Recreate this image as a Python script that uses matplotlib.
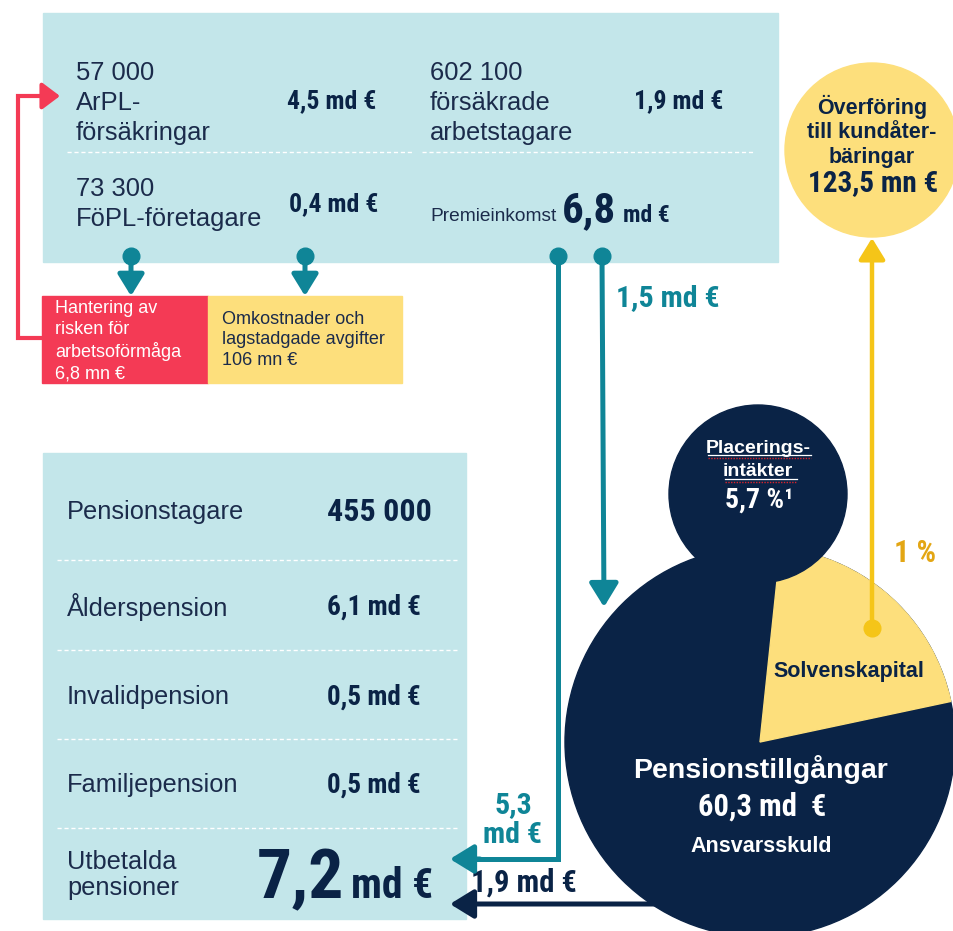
import numpy as np
import matplotlib
matplotlib.use("Agg")
import matplotlib.pyplot as plt
from matplotlib.patches import Rectangle, Circle, Wedge

# %% data
top_left_labels = ["57 000\nArPL-\nförsäkringar", "73 300\nFöPL-företagare"]
top_left_values = ["4,5 md €", "0,4 md €"]
top_right_label = "602 100\nförsäkrade\narbetstagare"
top_right_value = "1,9 md €"
premium_label = "Premieinkomst"
premium_value = "6,8"
cost_boxes = ["Hantering av\nrisken för\narbetsoförmåga\n6,8 mn €",
              "Omkostnader och\nlagstadgade avgifter\n106 mn €"]
transfer_text = "Överföring\ntill kundåter-\nbäringar"
transfer_value = "123,5 mn €"
flow_values = ["1,5 md €", "5,3\nmd €", "1,9 md €", "1 %"]
invest_label = "Placerings-\nintäkter"
invest_value = "5,7 %¹"
solvency_share = 0.20   # share of the big circle shown as solvency capital
assets_label = "Pensionstillgångar"
assets_value = "60,3 md  €"
liability_label = "Ansvarsskuld"
pension_labels = ["Pensionstagare", "Ålderspension", "Invalidpension", "Familjepension"]
pension_values = ["455 000", "6,1 md €", "0,5 md €", "0,5 md €"]
paid_label = "Utbetalda\npensioner"
paid_value = "7,2"

# colours
LBLUE = "#c3e6ea"
NAVY = "#0a2346"
TEXT = "#1b2b4b"
TEAL = "#0f8597"
RED = "#f43a55"
YEL = "#fddf7c"
GOLD = "#f5c518"
GOLDTXT = "#e3a614"

REG = ["Liberation Sans", "DejaVu Sans"]
NAR = ["Roboto Condensed", "DejaVu Sans"]

fig = plt.figure(figsize=(9.54, 9.31), dpi=100)
ax = fig.add_axes([0, 0, 1, 1])
ax.set_xlim(0, 954)
ax.set_ylim(931, 0)
ax.axis("off")


def nar(x, y, s, size, color=NAVY, **kw):
    kw.setdefault("va", "center")
    kw.setdefault("ha", "left")
    ax.text(x, y, s, fontsize=size, family=NAR, weight="bold",
            color=color, zorder=6, **kw)


def arrow(x0, y0, x1, y1, color, lw=3.6, hw=0.55, hl=0.6, ms=22, z=5):
    ax.annotate("", xy=(x1, y1), xytext=(x0, y0),
                arrowprops=dict(arrowstyle=f"-|>,head_width={hw},head_length={hl}",
                                color=color, lw=lw, mutation_scale=ms,
                                shrinkA=0, shrinkB=0), zorder=z)


# ---- top box
ax.add_patch(Rectangle((43, 13), 735, 249, color=LBLUE, zorder=1))
ax.plot([67, 413], [152, 152], color="white", lw=1, ls=(0, (3, 2)), zorder=2)
ax.plot([422, 755], [152, 152], color="white", lw=1, ls=(0, (3, 2)), zorder=2)

ax.text(76, 103, top_left_labels[0], fontsize=18.4, family=REG, color=TEXT,
        va="center", ha="left", linespacing=1.31, zorder=3)
ax.text(76, 204, top_left_labels[1], fontsize=18.4, family=REG, color=TEXT,
        va="center", ha="left", linespacing=1.31, zorder=3)
nar(287, 101, top_left_values[0], 18.5)
nar(289, 204, top_left_values[1], 18.5)
ax.text(430, 103, top_right_label, fontsize=18.4, family=REG, color=TEXT,
        va="center", ha="left", linespacing=1.31, zorder=3)
nar(634, 101, top_right_value, 18.5)
ax.text(430, 221, premium_label, fontsize=13.8, family=REG, color=TEXT,
        va="baseline", ha="left", zorder=3)
nar(562, 222, premium_value, 31, va="baseline")
nar(623, 222, "md €", 17, va="baseline")

# ---- cost boxes
ax.add_patch(Rectangle((42, 296), 166, 87, color=RED, zorder=1))
ax.add_patch(Rectangle((208, 296), 194, 87, color=YEL, zorder=1))
ax.text(55, 341, cost_boxes[0], fontsize=13, family=REG, color="white",
        va="center", ha="left", linespacing=1.3, zorder=3)
ax.text(222, 340, cost_boxes[1], fontsize=13, family=REG, color=TEXT,
        va="center", ha="left", linespacing=1.3, zorder=3)

# red loop back to ArPL
ax.plot([42, 18, 18, 45], [338, 338, 96, 96], color=RED, lw=3, zorder=2,
        solid_joinstyle="miter")
arrow(40, 96, 60, 96, RED, lw=3, hw=0.45, hl=0.6, ms=18)

# teal drops from the top box
for x in (131, 305):
    ax.plot([x], [256], "o", ms=12, color=TEAL, zorder=4)
    arrow(x, 256, x, 296, TEAL, lw=3.6, hw=0.4, hl=0.65, ms=20)

# ---- yellow transfer circle
ax.add_patch(Circle((872, 150), 87, color=YEL, zorder=1))
ax.text(872, 131, transfer_text, fontsize=15.5, family=REG, weight="bold",
        color=NAVY, va="center", ha="center", linespacing=1.22, zorder=3)
nar(873, 183, transfer_value, 21, ha="center")

# ---- big circle, wedge, small circle
cx, cy, R = 760, 742, 195
ax.add_patch(Circle((cx, cy), R, color=NAVY, zorder=1))
a0 = 12
a1 = a0 + solvency_share * 360
ax.add_patch(Wedge((cx, cy), R, -a1, -a0, color=YEL, zorder=2))
ax.add_patch(Circle((758, 494), 89, color=NAVY, zorder=3))

ax.text(758, 460, invest_label, fontsize=14, family=REG, weight="bold",
        color="white", va="center", ha="center", linespacing=1.48, zorder=6)
# underline + spell-check squiggle
ax.plot([708, 811], [455, 455], color="white", lw=0.9, zorder=6)
ax.plot([725, 797], [479, 479], color="white", lw=0.9, zorder=6)
ax.plot([708, 811], [458, 458], color="#d9232d", lw=1, ls=(0, (1, 1)), zorder=6)
ax.plot([725, 797], [482, 482], color="#d9232d", lw=1, ls=(0, (1, 1)), zorder=6)
nar(759, 500, invest_value, 20, color="white", ha="center")

ax.text(849, 672, "Solvenskapital", fontsize=15.5, family=REG, weight="bold",
        color=NAVY, va="center", ha="center", zorder=6)
ax.text(761, 770, assets_label, fontsize=20.5, family=REG, weight="bold",
        color="white", va="center", ha="center", zorder=6)
nar(762, 807, assets_value, 22, color="white", ha="center")
ax.text(761, 846, liability_label, fontsize=15.5, family=REG, weight="bold",
        color="white", va="center", ha="center", zorder=6)

# yellow transfer flow
ax.plot([872], [628], "o", ms=12, color=GOLD, zorder=7)
arrow(872, 628, 872, 238, GOLD, lw=3.2, hw=0.4, hl=0.65, ms=20, z=7)
nar(915, 553, flow_values[3], 22, color=GOLDTXT, ha="center")

# teal flows from premium income
ax.plot([602], [256], "o", ms=12, color=TEAL, zorder=7)
arrow(602, 256, 604, 607, TEAL, lw=3.6, hw=0.4, hl=0.65, ms=22, z=7)
nar(616, 298, flow_values[0], 21.5, color=TEAL)

ax.plot([558], [256], "o", ms=12, color=TEAL, zorder=7)
ax.plot([558, 558, 470], [256, 859, 859], color=TEAL, lw=3.6, zorder=7,
        solid_joinstyle="miter")
arrow(480, 859, 450, 859, TEAL, lw=3.6, hw=0.4, hl=0.65, ms=22, z=7)
nar(513, 820, flow_values[1], 21.5, color=TEAL, ha="center", linespacing=1.1)

# navy paid pensions flow
arrow(662, 904, 450, 904, NAVY, lw=3.6, hw=0.4, hl=0.65, ms=22, z=7)
nar(471, 883, flow_values[2], 22)

# ---- bottom box
ax.add_patch(Rectangle((43, 453), 423, 466, color=LBLUE, zorder=1))
for y in (560, 650, 739, 828):
    ax.plot([57, 457], [y, y], color="white", lw=1, ls=(0, (3, 2)), zorder=2)

rows_y = [512, 607, 697, 785]
for i, (lab, val) in enumerate(zip(pension_labels, pension_values)):
    ax.text(67, rows_y[i], lab, fontsize=18.3, family=REG, color=TEXT,
            va="center", ha="left", zorder=3)
    nar(327, rows_y[i], val, 23 if i == 0 else 19.5)

ax.text(67, 875, paid_label, fontsize=18.3, family=REG, color=TEXT,
        va="center", ha="left", linespacing=1.15, zorder=3)
nar(257, 898, paid_value, 50, va="baseline")
nar(351, 898, "md €", 30, va="baseline")

fig.savefig("out.png", dpi=100)
